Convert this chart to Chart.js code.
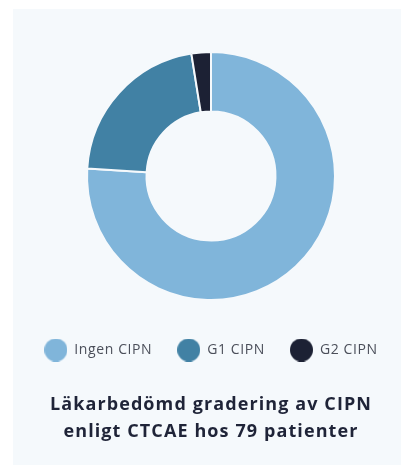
<!DOCTYPE html>
<html>
<head>
<meta charset="utf-8">
<script src="https://cdn.jsdelivr.net/npm/chart.js@4"></script>
<style>
  html, body { margin: 0; padding: 0; background: #fff; overflow: hidden; }
  .panel {
    position: absolute; left: 13px; top: 9px;
    width: 398px; height: 456px;
    background: #f5f9fc;
  }
</style>
</head>
<body>
<div class="panel"><canvas id="cipnChart" width="398" height="456"></canvas></div>
<script>
const grades = ['Ingen CIPN', 'G1 CIPN', 'G2 CIPN']
const patients = [60, 17, 2]
const sliceColors = ['#80b5da', '#4181a4', '#1c2134']
const titleLines = ['Läkarbedömd gradering av CIPN', 'enligt CTCAE hos 79 patienter']

// round legend markers, bigger than the label font allows
function dot(color) {
  const c = document.createElement('canvas')
  c.width = 23
  c.height = 23
  const g = c.getContext('2d')
  g.fillStyle = color
  g.beginPath()
  g.arc(11.5, 11.5, 11.5, 0, Math.PI * 2)
  g.fill()
  return c
}

// the original font runs wider, so open up the letters a bit
function spaced(box, px) {
  for (const name of ['fit', 'draw']) {
    const orig = box[name]
    box[name] = function (...args) {
      this.ctx.save()
      this.ctx.letterSpacing = px
      const r = orig.apply(this, args)
      this.ctx.restore()
      return r
    }
  }
}

const ctx = document.getElementById('cipnChart').getContext('2d')

new Chart(ctx, {
  type: 'doughnut',
  data: {
    labels: grades,
    datasets: [
      {
        data: patients,
        backgroundColor: sliceColors,
        borderColor: '#f5f9fc',
        borderWidth: 2,
        radius: 124,
      },
    ],
  },
  options: {
    responsive: false,
    animation: false,
    cutout: '52%',
    layout: {
      padding: { top: 25, left: 0, right: 2, bottom: 0 },
    },
    plugins: {
      legend: {
        position: 'bottom',
        labels: {
          usePointStyle: true,
          pointStyleWidth: 23,
          padding: 25,
          color: '#4b4f5a',
          font: { family: 'Open Sans', size: 14 },
          generateLabels: (chart) =>
            Chart.controllers.doughnut.overrides.plugins.legend.labels
              .generateLabels(chart)
              .map((item, i) => ({ ...item, pointStyle: dot(sliceColors[i]) })),
        },
      },
      title: {
        display: true,
        position: 'bottom',
        text: titleLines,
        color: '#1f2438',
        font: { family: 'Open Sans', size: 18, weight: 'bold', lineHeight: 1.5 },
        padding: { top: 24, bottom: 20 },
      },
      tooltip: { enabled: false },
    },
  },
  plugins: [
    {
      id: 'spacing',
      afterInit(chart) {
        spaced(chart.legend, '0.6px')
        spaced(chart.titleBlock, '1.1px')
      },
    },
  ],
})
</script>
</body>
</html>
